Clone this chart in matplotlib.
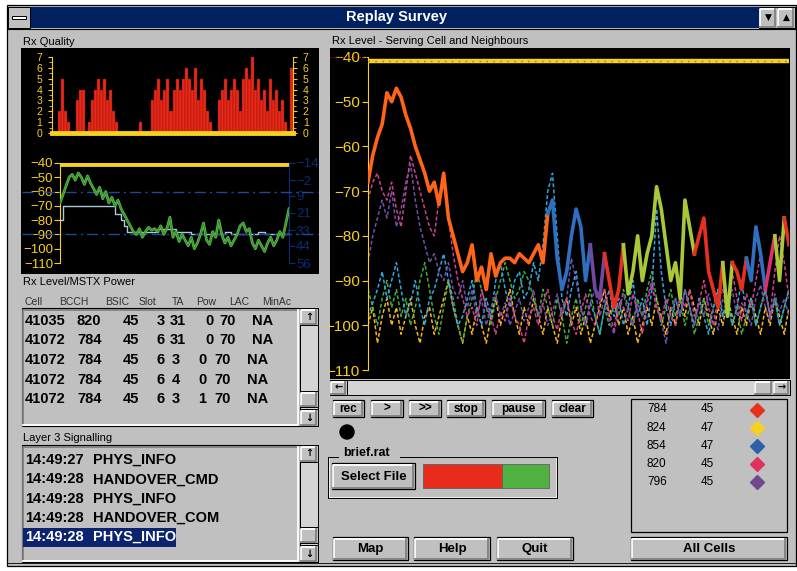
import numpy as np
import matplotlib.pyplot as plt
from matplotlib.patches import Rectangle, Circle

W, H = 797, 571
plt.rcParams['font.family'] = ['Liberation Sans', 'DejaVu Sans']

# ---- Rx Quality (0..7) ----
quality = [0, 0, 2, 5, 2, 1, 0, 0, 3, 4, 4, 0, 1, 3, 4, 5, 4, 5, 3, 4,
           2, 1, 0, 0, 0, 0, 0, 0, 0, 1, 0, 0, 0, 3, 4, 5, 3, 4, 5, 2,
           4, 5, 4, 5, 6, 5, 4, 6, 3, 5, 4, 2, 1, 0, 0, 3, 4, 5, 3, 4,
           5, 4, 2, 5, 6, 5, 7, 4, 5, 3, 4, 2, 5, 3, 4, 2, 3, 1, 0, 6]

# ---- Rx Level (dBm) and MS TX power ----
rx_level = [-68, -62, -56, -50, -48, -52, -47, -50, -55, -49, -54, -58, -62, -57, -65, -60,
            -68, -64, -70, -66, -72, -76, -80, -84, -88, -90, -86, -92, -88, -85, -87, -86,
            -88, -84, -90, -86, -78, -92, -88, -95, -90, -94, -98, -92, -100, -96, -90, -82,
            -94, -97, -88, -92, -80, -90, -96, -92, -98, -94, -90, -84, -82, -88, -86, -96,
            -100, -94, -98, -102, -96, -92, -98, -94, -88, -92, -82, -72]
tx_power = [26, 16, 16, 16, 16, 16, 16, 16, 16, 16, 16, 16, 16, 16, 16, 16, 16, 16, 22, 22,
            26, 30, 34, 34, 34, 34, 34, 34, 34, 34, 34, 34, 32, 32, 32, 32, 32, 32, 34, 34,
            34, 34, 34, 36, 36, 36, 36, 36, 36, 36, 36, 36, 36, 36, 34, 34, 36, 36, 36, 36,
            36, 36, 36, 36, 36, 34, 34, 36, 36, 36, 36, 36, 36, 36, 36, 32]

# ---- Serving cell and neighbours (dBm) ----
serving = [-68, -62, -58, -55, -48, -50, -47, -49, -53, -56, -60, -63, -66, -70, -68, -73,
           -66, -76, -80, -84, -88, -86, -82, -90, -87, -92, -84, -89, -86, -85, -85, -86,
           -84, -85, -86, -84, -82, -86, -75, -72, -85, -92, -88, -80, -74, -78, -90, -82,
           -92, -94, -84, -90, -96, -92, -82, -93, -88, -80, -90, -84, -80, -69, -74, -82,
           -90, -86, -94, -72, -78, -84, -80, -76, -88, -92, -96, -86, -98, -86, -88, -92,
           -85, -90, -78, -84, -92, -86, -80, -90, -76, -82]
serving_run_start = [0, 38, 47, 50, 54, 69, 75, 77, 80, 84, 86, 88]
serving_run_color = ['#ff6418', '#2f6fc0', '#7048a0', '#e83020', '#a8c838', '#e83020',
                     '#a8c838', '#e83020', '#2f6fc0', '#e0306a', '#a8c838', '#e83020']

nb_pink = [-72, -68, -66, -70, -72, -68, -74, -78, -70, -62, -66, -70, -74, -78, -80, -72,
           -68, -76, -84, -90, -94, -98, -96, -100, -92, -96, -98, -102, -97, -99, -94, -98,
           -100, -104, -98, -96, -100, -95, -92, -98, -101, -96, -94, -99, -102, -97, -93, -98,
           -100, -95, -92, -97, -101, -94, -96, -99, -93, -97, -102, -95, -91, -96, -99, -94,
           -98, -100, -93, -96, -92, -98, -95, -90, -96, -100, -94, -92, -97, -88, -94, -99,
           -93, -96, -90, -84, -92, -98, -88, -80, -86, -94]
nb_purple = [-86, -80, -76, -72, -76, -70, -78, -74, -68, -64, -72, -78, -82, -86, -84, -88,
             -90, -86, -92, -94, -90, -96, -92, -98, -94, -100, -96, -93, -98, -95, -100, -97,
             -94, -99, -96, -92, -98, -95, -100, -97, -93, -98, -94, -85, -90, -96, -100, -95,
             -92, -98, -94, -99, -102, -96, -93, -97, -100, -95, -98, -94, -90, -96, -99, -104,
             -97, -94, -98, -92, -96, -100, -95, -98, -93, -97, -101, -94, -96, -92, -98, -95,
             -97, -100, -94, -91, -96, -99, -93, -97, -94, -98]
nb_cyan = [-98, -95, -92, -88, -94, -90, -86, -92, -98, -95, -90, -96, -100, -94, -92, -88,
           -84, -90, -96, -100, -98, -94, -90, -96, -100, -94, -98, -90, -86, -92, -96, -90,
           -88, -94, -92, -86, -90, -82, -70, -66, -80, -94, -98, -92, -88, -96, -100, -95,
           -98, -102, -96, -92, -98, -94, -100, -96, -90, -98, -94, -100, -92, -74, -88, -96,
           -100, -94, -98, -92, -96, -100, -94, -98, -102, -96, -92, -98, -94, -100, -96, -90,
           -98, -94, -100, -96, -92, -98, -94, -100, -96, -92]
nb_yellow = [-100, -96, -104, -98, -94, -100, -96, -102, -98, -94, -100, -104, -98, -96, -102, -98,
             -94, -90, -96, -100, -104, -98, -102, -96, -100, -104, -98, -94, -100, -96, -92, -98,
             -102, -96, -100, -94, -98, -102, -96, -100, -104, -98, -94, -100, -96, -102, -98, -104,
             -100, -96, -92, -98, -94, -100, -96, -102, -98, -104, -100, -96, -100, -94, -98, -102,
             -96, -100, -94, -98, -92, -96, -100, -94, -98, -102, -96, -100, -94, -98, -102, -96,
             -100, -94, -98, -102, -96, -100, -94, -98, -102, -96]
nb_green = [-92, -96, -100, -94, -90, -96, -92, -98, -94, -100, -96, -90, -86, -92, -98, -102,
            -96, -90, -94, -100, -104, -98, -94, -88, -92, -96, -100, -94, -90, -86, -90, -94,
            -92, -88, -90, -94, -98, -92, -96, -100, -94, -98, -104, -98, -94, -100, -96, -92,
            -98, -102, -96, -100, -94, -98, -92, -96, -100, -94, -98, -92, -88, -94, -100, -96,
            -92, -98, -94, -100, -96, -102, -98, -94, -100, -96, -92, -98, -94, -100, -96, -102,
            -98, -94, -100, -96, -92, -98, -94, -100, -96, -92]

cell_rows = [['41035', '820', '45', '3', '31', '0', '70', 'NA'],
             ['41072', '784', '45', '6', '31', '0', '70', 'NA'],
             ['41072', '784', '45', '6', '3', '0', '70', 'NA'],
             ['41072', '784', '45', '6', '4', '0', '70', 'NA'],
             ['41072', '784', '45', '6', '3', '1', '70', 'NA']]
cell_header = ['Cell', 'BCCH', 'BSIC', 'Slot', 'TA', 'Pow', 'LAC', 'MinAc']
l3_times = ['14:49:27', '14:49:28', '14:49:28', '14:49:28', '14:49:28']
l3_msgs = ['PHYS_INFO', 'HANDOVER_CMD', 'PHYS_INFO', 'HANDOVER_COM', 'PHYS_INFO']
legend_bcch = ['784', '824', '854', '820', '796']
legend_bsic = ['45', '47', '47', '45', '45']
legend_color = ['#e83020', '#f8d020', '#2f5fa8', '#e03060', '#704890']

GRAY = '#c0c0c0'
YEL = '#f8d020'
NAVY = '#0c2c78'

fig = plt.figure(figsize=(W / 100, H / 100), dpi=100)
bg = fig.add_axes([0, 0, 1, 1])
bg.set_xlim(0, W)
bg.set_ylim(H, 0)
bg.axis('off')


def rect(x0, y0, x1, y1, fc, ec='none', lw=0.0, z=1):
    bg.add_patch(Rectangle((x0, y0), x1 - x0, y1 - y0, facecolor=fc,
                           edgecolor=ec, linewidth=lw, zorder=z))


def bevel(x0, y0, x1, y1, raised=True, z=2):
    hi, lo = ('white', '#808080') if raised else ('#808080', 'white')
    bg.plot([x0 + 1.5, x0 + 1.5, x1 - 1.5], [y1 - 1.5, y0 + 1.5, y0 + 1.5], color=hi, lw=1.3, zorder=z)
    bg.plot([x0 + 1.5, x1 - 1.5, x1 - 1.5], [y1 - 1.5, y1 - 1.5, y0 + 1.5], color=lo, lw=1.3, zorder=z)


def button(x0, y0, x1, y1, label, fs=9):
    rect(x0, y0, x1, y1, GRAY, 'black', 0.9)
    bevel(x0, y0, x1, y1)
    bg.text((x0 + x1) / 2, (y0 + y1) / 2 + 0.5, label, ha='center', va='center',
            fontsize=fs, fontweight='bold', zorder=3)


def px_axes(x0, y0, x1, y1):
    return fig.add_axes([x0 / W, 1 - y1 / H, (x1 - x0) / W, (y1 - y0) / H])


def vscroll(x0, y0, x1, y1, thumb_y):
    rect(x0, y0, x1, y1, '#d4d4d4', 'black', 0.7)
    for ya, arrow in ((y0, '↑'), (y1 - 17, '↓')):
        rect(x0, ya, x1, ya + 17, GRAY, 'black', 0.7)
        bevel(x0, ya, x1, ya + 17)
        bg.text((x0 + x1) / 2, ya + 8.5, arrow, ha='center', va='center', fontsize=7,
                fontweight='bold', family='DejaVu Sans', zorder=3)
    rect(x0, thumb_y, x1, thumb_y + 16, GRAY, 'black', 0.7)
    bevel(x0, thumb_y, x1, thumb_y + 16)


# ---- window chrome ----
rect(7, 5, 796, 566, GRAY, 'black', 0.9)
rect(30, 7, 759, 28, '#002060')
bg.text(397, 17.5, 'Replay Survey', color='white', ha='center', va='center',
        fontsize=10.5, fontweight='bold')
rect(8, 7, 30, 28, GRAY, 'black', 0.7)
rect(12, 16, 26, 19, 'white', 'black', 0.7)
for xb, sym in ((759, '▼'), (777, '▲')):
    rect(xb, 7, xb + 18, 28, GRAY, 'black', 0.7)
    bevel(xb, 7, xb + 18, 28)
    bg.text(xb + 9, 17.5, sym, ha='center', va='center', fontsize=6.5, family='DejaVu Sans')
bg.plot([7, 796], [29, 29], color='black', lw=0.8)
bg.plot([7, 796], [563, 563], color='black', lw=0.6)

# ---- left panels ----
bg.text(23, 42, 'Rx Quality', fontsize=8, va='center')
rect(21, 48, 319, 274, 'black')
bg.text(23, 282, 'Rx Level/MSTX Power', fontsize=8, va='center')

# Rx Quality chart
axq = px_axes(52, 57, 293, 133)
xq = np.arange(len(quality))
axq.bar(xq, quality, width=1.0, color='#e82818', edgecolor='#8a1208', linewidth=0.3)
axq.axhline(0, color=YEL, lw=3.5, clip_on=False, zorder=5)
axq.set_xlim(-0.5, len(quality) - 0.5)
axq.set_ylim(0, 7)
axq.set_facecolor('none')
for s in ['top', 'bottom']:
    axq.spines[s].set_visible(False)
for s in ['left', 'right']:
    axq.spines[s].set_color(YEL)
axq.set_xticks([])
axq.set_yticks(range(8))
axq.set_yticks(np.arange(0, 7, 0.5), minor=True)
axq.tick_params(axis='y', which='both', left=True, right=True, labelleft=True,
                labelright=True, colors=YEL, labelsize=7.5, length=3, pad=4)
axq.tick_params(axis='y', which='minor', length=2)

# Rx Level / MSTX power chart
axl = px_axes(60, 163, 289, 263)
xl = np.arange(len(rx_level))
axl.plot(xl, rx_level, color='#58b848', lw=2.0, zorder=3)
axl.plot(xl, rx_level, color='#2e7a26', lw=0.5, zorder=3)
axl.axhline(-41, color=YEL, lw=3.5, zorder=4)
for lev in (-60, -90):
    axl.axhline(lev, xmin=-(60 - 22) / 229, xmax=1 + (318 - 289) / 229, color='#1c4a9a',
                lw=1.0, ls=(0, (8, 3, 1.5, 3)), clip_on=False, zorder=2)
axl.set_xlim(0, len(rx_level) - 1)
axl.set_ylim(-110, -40)
axl.set_facecolor('none')
for s in ['top', 'bottom', 'right']:
    axl.spines[s].set_visible(False)
axl.spines['left'].set_color(YEL)
axl.set_xticks([])
axl.set_yticks(range(-110, -39, 10))
axl.tick_params(axis='y', colors=YEL, labelsize=9.5, length=4, pad=1)
axt = axl.twinx()
axt.step(xl, tx_power, where='post', color='#a8c8dc', lw=1.0, zorder=2)
axt.set_ylim(56, -14)
axt.set_yticks([-14, -2, 9, 21, 33, 44, 56])
for s in ['top', 'bottom', 'left']:
    axt.spines[s].set_visible(False)
axt.spines['right'].set_color(NAVY)
axt.tick_params(axis='y', colors=NAVY, labelsize=9.5, length=4, pad=1)
axt.set_xticks([])
axl.set_zorder(axt.get_zorder() + 1)
axl.patch.set_visible(False)

# ---- cell list ----
head_x = [25, 59, 105, 139, 172, 196, 229, 262]
for hx, txt in zip(head_x, cell_header):
    bg.text(hx, 302, txt, fontsize=7.5, color='#303030', va='center')
rect(22, 308, 300, 426, GRAY, 'black', 0.8)
bevel(22, 308, 300, 426, raised=False)
vscroll(300, 308, 318, 426, 391)
col_x_a = [25, 77, 123, 157, 170, 205, 219, 252]
col_x_b = [25, 77, 123, 157, 172, 198, 214, 247]
for r, row in enumerate(cell_rows):
    cx = col_x_a if r < 2 else col_x_b
    for x, tok in zip(cx, row):
        bg.text(x, 321 + 19.5 * r, tok, fontsize=10.5, fontweight='bold', va='center')

# ---- layer 3 list ----
bg.text(23, 438, 'Layer 3 Signalling', fontsize=8, va='center')
rect(22, 445, 300, 562, GRAY, 'black', 0.8)
bevel(22, 445, 300, 562, raised=False)
vscroll(300, 445, 318, 562, 527)
for r, (tm, msg) in enumerate(zip(l3_times, l3_msgs)):
    yy = 460 + 19.3 * r
    col = 'black'
    if r == len(l3_times) - 1:
        rect(23, yy - 9.5, 176, yy + 9.5, '#0c2470', z=2)
        col = 'white'
    bg.text(25, yy, tm, fontsize=10.5, fontweight='bold', va='center', color=col, zorder=3)
    bg.text(93, yy, msg, fontsize=10.5, fontweight='bold', va='center', color=col, zorder=3)

# ---- main chart ----
bg.text(332, 41, 'Rx Level - Serving Cell and Neighbours', fontsize=8, va='center')
rect(330, 48, 790, 379, 'black')
axm = px_axes(368, 57, 789, 370)
tm = np.arange(len(serving))
for nb, col in ((nb_yellow, '#f8b818'), (nb_green, '#48a840'), (nb_cyan, '#30a8e0'),
                (nb_purple, '#7050a8'), (nb_pink, '#d04090')):
    axm.plot(np.arange(len(nb)), nb, color=col, lw=1.1, ls=(0, (2.5, 1.5)), zorder=2)
bounds = serving_run_start + [len(serving) - 1]
for k, col in enumerate(serving_run_color):
    s, e = bounds[k], bounds[k + 1]
    axm.plot(tm[s:e + 1], serving[s:e + 1], color=col, lw=2.6, zorder=3)
axm.axhline(-41, color=YEL, lw=3.2, zorder=4)
axm.axhline(-41, color='#b07000', lw=1.0, ls=(0, (1, 4)), zorder=5)
axm.axhline(-40, xmin=-(368 - 330) / 421, xmax=0, color='#b02010', lw=0.8, ls=':',
            clip_on=False)
axm.set_xlim(0, len(serving) - 1)
axm.set_ylim(-110, -40)
axm.set_facecolor('none')
for s in ['top', 'bottom', 'right']:
    axm.spines[s].set_visible(False)
axm.spines['left'].set_color(YEL)
axm.set_xticks([])
axm.set_yticks(range(-110, -39, 10))
axm.set_yticks(range(-105, -40, 10), minor=True)
axm.tick_params(axis='y', colors=YEL, labelsize=11, length=4, pad=2)
axm.tick_params(axis='y', which='minor', length=2)

# horizontal scrollbar
rect(330, 380, 790, 395, '#d4d4d4', 'black', 0.7)
for xa, arrow in ((330, '←'), (773, '→')):
    rect(xa, 380, xa + 17, 395, GRAY, 'black', 0.7)
    bevel(xa, 380, xa + 17, 395)
    bg.text(xa + 8.5, 387.5, arrow, ha='center', va='center', fontsize=7,
            fontweight='bold', family='DejaVu Sans')
rect(754, 380, 773, 395, GRAY, 'black', 0.7)
bevel(754, 380, 773, 395)

# transport buttons
for x0, x1, lab in ((333, 364, 'rec'), (371, 403, '>'), (409, 441, '>>'),
                    (447, 485, 'stop'), (492, 545, 'pause'), (552, 593, 'clear')):
    button(x0, 400, x1, 417, lab, fs=8.5)
bg.add_patch(Circle((347, 432), 7, color='black'))

# file group
bg.plot([338, 328, 328, 557, 557, 400], [457, 457, 498, 498, 457, 457], color='black', lw=0.7)
bg.plot([329, 329, 556, 556], [458, 497, 497, 458], color='white', lw=0.5)
bg.text(343, 453, 'brief.rat', fontsize=9, fontweight='bold', va='center',
        bbox=dict(facecolor=GRAY, edgecolor='none', pad=1))
button(332, 463, 415, 489, 'Select File', fs=9.5)
rect(423, 464, 502, 488, '#e82c1c', '#606060', 0.6)
rect(502, 464, 549, 488, '#50b040', '#606060', 0.6)

# bottom buttons
for x0, x1, lab in ((333, 408, 'Map'), (414, 490, 'Help'), (497, 573, 'Quit')):
    button(x0, 537, x1, 560, lab, fs=9.5)

# legend box
rect(631, 399, 787, 532, GRAY, 'black', 0.9)
for r in range(len(legend_bcch)):
    yy = 409.5 + 18.2 * r
    bg.text(647, yy, legend_bcch[r], fontsize=8.5, va='center')
    bg.text(701, yy, legend_bsic[r], fontsize=8.5, va='center')
    bg.plot([757], [yy], marker='D', ms=7, color=legend_color[r], zorder=3)
button(631, 537, 787, 560, 'All Cells', fs=9.5)

fig.savefig('out.png', dpi=100, facecolor='white')
